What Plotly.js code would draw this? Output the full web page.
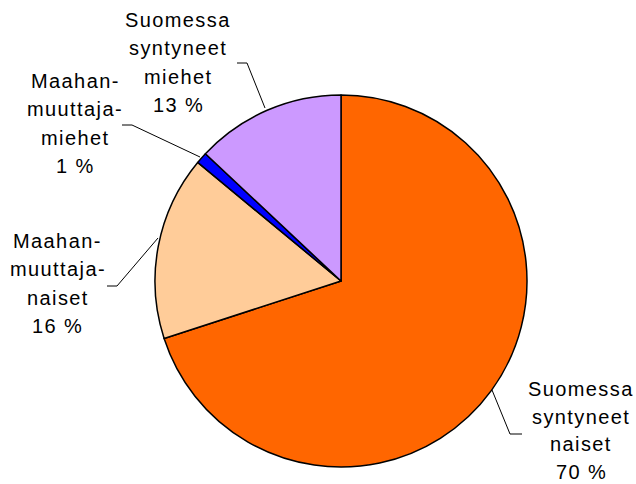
<!DOCTYPE html>
<html>
<head>
<meta charset="utf-8">
<script src="https://cdn.plot.ly/plotly-3.0.1.min.js"></script>
<style>
html,body{margin:0;padding:0;background:#fff;}
#chart{width:636px;height:484px;}
.annotation-text{letter-spacing:1.4px;}
</style>
</head>
<body>
<div id="chart"></div>
<script>
// Data
var categories = ["Suomessa syntyneet naiset", "Maahanmuuttajanaiset", "Maahanmuuttajamiehet", "Suomessa syntyneet miehet"];
var values = [70, 16, 1, 13];
var labelLines = [
  ["Suomessa", "syntyneet", "naiset"],
  ["Maahan-", "muuttaja-", "naiset"],
  ["Maahan-", "muuttaja-", "miehet"],
  ["Suomessa", "syntyneet", "miehet"]
];
var colors = ["#FF6600", "#FFCC99", "#0000FF", "#CC99FF"];

// Layout helpers (pixel positions of label blocks and leader lines)
var W = 636, H = 484;
function px(x){ return x / W; }
function py(y){ return 1 - y / H; }
var labelCX = [581, 58, 75, 178];
var labelTopY = [389, 241, 81, 20];
var lineGap = [27.6, 28.3, 28.3, 28.3];
var leaders = [
  [[492,390],[510,434],[522,434]],
  [[158,238],[117,286],[107,286]],
  [[200,157],[132,125],[122,125]],
  [[265,108],[247,63],[237,63]]
];

var total = values.reduce(function(a,b){return a+b;},0);
var annotations = [];
var shapes = [];
for (var i = 0; i < categories.length; i++) {
  var lines = labelLines[i].concat([Math.round(values[i] / total * 100) + " %"]);
  for (var j = 0; j < lines.length; j++) {
    annotations.push({
      text: lines[j],
      x: px(labelCX[i]), y: py(labelTopY[i] + j * lineGap[i]),
      xref: "paper", yref: "paper",
      xanchor: "center", yanchor: "middle",
      showarrow: false,
      font: {family: "Liberation Sans, Arial, sans-serif", size: 20, color: "#000"}
    });
  }
  var L = leaders[i];
  var d = "M" + px(L[0][0]) + "," + py(L[0][1]);
  for (var k = 1; k < L.length; k++) d += " L" + px(L[k][0]) + "," + py(L[k][1]);
  shapes.push({type: "path", xref: "paper", yref: "paper", path: d,
    line: {color: "#000", width: 1}});
}

var cx = 341, cy = 281, r = 186;
var trace = {
  type: "pie",
  labels: categories,
  values: values,
  sort: false,
  direction: "clockwise",
  rotation: 0,
  textinfo: "none",
  hoverinfo: "label+percent",
  marker: {colors: colors, line: {color: "#000", width: 1.5}},
  domain: {x: [px(cx - r), px(cx + r)], y: [py(cy + r), py(cy - r)]},
  showlegend: false
};

var layout = {
  width: W, height: H,
  margin: {l: 0, r: 0, t: 0, b: 0},
  paper_bgcolor: "#fff",
  showlegend: false,
  annotations: annotations,
  shapes: shapes
};

Plotly.newPlot("chart", [trace], layout, {displayModeBar: false, staticPlot: true});
</script>
</body>
</html>
